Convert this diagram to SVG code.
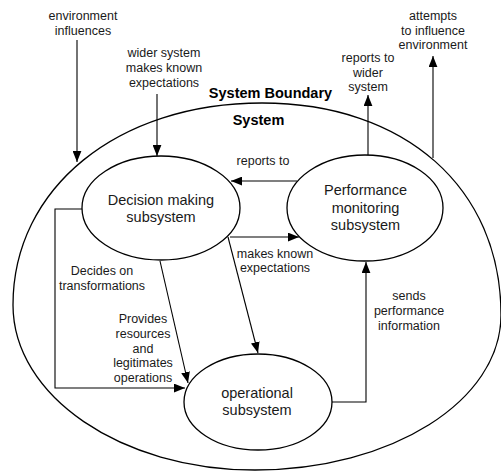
<svg xmlns="http://www.w3.org/2000/svg" width="501" height="471" viewBox="0 0 501 471">
<style>
.t{font-family:"Liberation Sans",Arial,sans-serif;font-size:12.5px;fill:#1a1a1a;text-anchor:middle}
.n{font-family:"Liberation Sans",Arial,sans-serif;font-size:14.5px;fill:#1a1a1a;text-anchor:middle}
.b{font-family:"Liberation Sans",Arial,sans-serif;font-size:14.5px;font-weight:bold;fill:#000;text-anchor:middle}
.e{fill:#fff;stroke:#000;stroke-width:1.3}
.c{fill:none;stroke:#000;stroke-width:1.1}
</style>
<defs>
<marker id="arr" viewBox="0 0 10 8" refX="10" refY="4" markerWidth="11" markerHeight="9" orient="auto" markerUnits="userSpaceOnUse"><path d="M0,0 L10,4 L0,8 z" fill="#000"/></marker>
</defs>
<g id="boundary">
<path d="M262,103 C405,103 501,188 501,315 C501,401 391,470 255,470 C121,470 13,396 13,305 C13,188 117.6,103 262,103 Z" fill="none" stroke="#000" stroke-width="1.3"/>
<text class="b" x="270.5" y="98">System Boundary</text>
<text class="b" x="258.5" y="125">System</text>
</g>
<g id="decision">
<ellipse class="e" cx="161" cy="208" rx="79" ry="52"/>
<text class="n" x="161" y="205">Decision making</text>
<text class="n" x="161" y="222">subsystem</text>
</g>
<g id="performance">
<ellipse class="e" cx="365" cy="208" rx="78" ry="53"/>
<text class="n" x="365.5" y="195">Performance</text>
<text class="n" x="365.5" y="213">monitoring</text>
<text class="n" x="365.5" y="230">subsystem</text>
</g>
<g id="operational">
<ellipse class="e" cx="258" cy="402" rx="74" ry="48"/>
<text class="n" x="257" y="398">operational</text>
<text class="n" x="257" y="415">subsystem</text>
</g>
<g id="connectors">
<line class="c" x1="77" y1="40" x2="77" y2="162" marker-end="url(#arr)"/>
<line class="c" x1="157" y1="94" x2="157" y2="156" marker-end="url(#arr)"/>
<line class="c" x1="368" y1="155" x2="368" y2="95" marker-end="url(#arr)"/>
<line class="c" x1="433" y1="158" x2="433" y2="56" marker-end="url(#arr)"/>
<line class="c" x1="297" y1="181" x2="231" y2="181" marker-end="url(#arr)"/>
<line class="c" x1="230" y1="237" x2="299" y2="237" marker-end="url(#arr)"/>
<line class="c" x1="228" y1="237" x2="258" y2="353" marker-end="url(#arr)"/>
<line class="c" x1="160" y1="261" x2="188" y2="383" marker-end="url(#arr)"/>
<polyline class="c" points="82,209 55,209 55,388 185,388" marker-end="url(#arr)"/>
<polyline class="c" points="332,402 366,402 366,262" marker-end="url(#arr)"/>
</g>
<g id="labels">
<text class="t" x="83" y="20">environment</text>
<text class="t" x="83" y="35">influences</text>
<text class="t" x="164" y="57">wider system</text>
<text class="t" x="164" y="72">makes known</text>
<text class="t" x="164" y="87">expectations</text>
<text class="t" x="368" y="62">reports to</text>
<text class="t" x="368" y="77">wider</text>
<text class="t" x="368" y="91">system</text>
<text class="t" x="433" y="20">attempts</text>
<text class="t" x="433" y="35">to influence</text>
<text class="t" x="433" y="49">environment</text>
<text class="t" x="263" y="165">reports to</text>
<text class="t" x="275" y="258">makes known</text>
<text class="t" x="275" y="272">expectations</text>
<text class="t" x="102" y="275">Decides on</text>
<text class="t" x="102" y="290">transformations</text>
<text class="t" x="143" y="323">Provides</text>
<text class="t" x="143" y="338">resources</text>
<text class="t" x="143" y="353">and</text>
<text class="t" x="143" y="367">legitimates</text>
<text class="t" x="143" y="382">operations</text>
<text class="t" x="409" y="300">sends</text>
<text class="t" x="409" y="315">performance</text>
<text class="t" x="409" y="330">information</text>
</g>
</svg>
